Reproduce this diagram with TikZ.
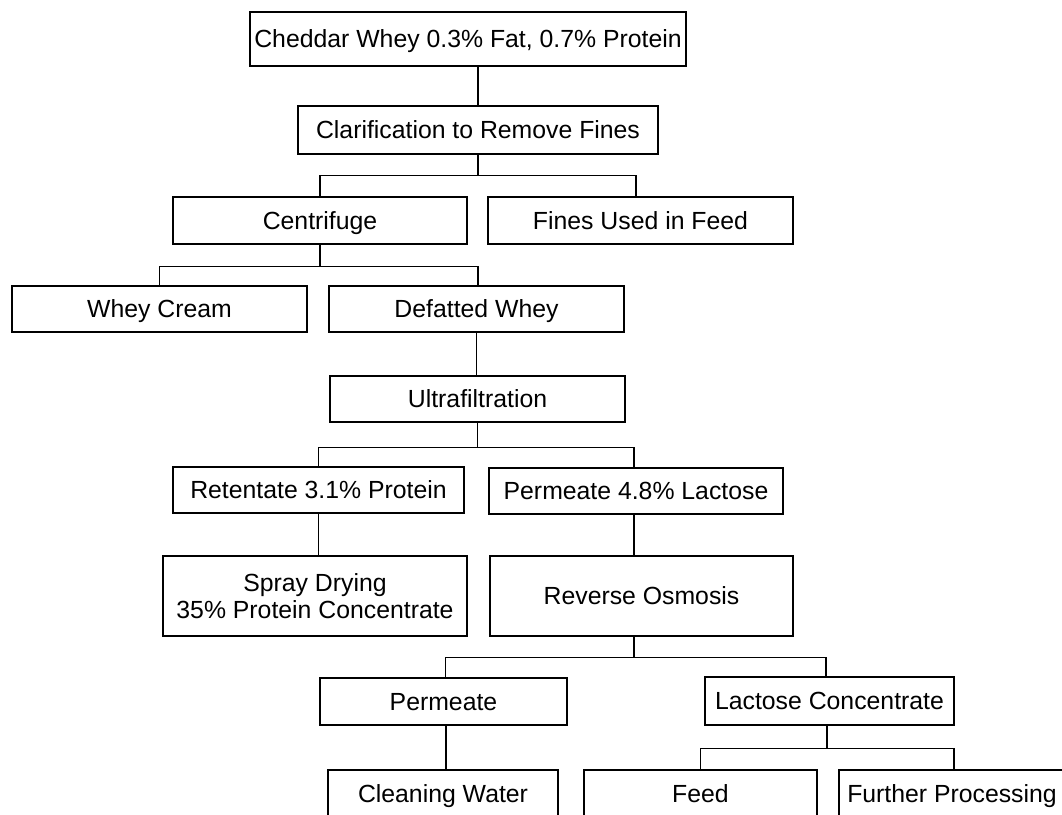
\documentclass[tikz,border=0pt]{standalone}
\usepackage{fontspec}
\setmainfont{Liberation Sans}
\begin{document}
\begin{tikzpicture}[x=1pt,y=-1pt,
  boxbase/.style={draw=black, line width=1.6pt, fill=white, rectangle, inner sep=0pt,
    align=center, font=\fontsize{24.8}{26.5}\selectfont, text=black},
  box/.style={boxbase, text height=17.8pt, text depth=0pt},
  link/.style={draw=black, line width=1.3pt}]
\useasboundingbox (0,0) rectangle (1062,814);
\clip (0,0) rectangle (1062,814);
\fill[white] (0,0) rectangle (1062,814);
% nodes
\node[box, minimum width=436pt, minimum height=54pt] (cheddar) at (468,39) {Cheddar Whey 0.3\% Fat, 0.7\% Protein};
\node[box, minimum width=360pt, minimum height=48pt] (clar) at (478,130) {Clarification to Remove Fines};
\node[box, minimum width=294pt, minimum height=47pt] (cent) at (320,220.5) {Centrifuge};
\node[box, minimum width=305pt, minimum height=47pt] (fines) at (640.5,220.5) {Fines Used in Feed};
\node[box, minimum width=295pt, minimum height=46pt] (cream) at (159.5,309) {Whey Cream};
\node[box, minimum width=295pt, minimum height=46pt] (defat) at (476.5,309) {Defatted Whey};
\node[box, minimum width=295pt, minimum height=46pt] (ultra) at (477.5,399) {Ultrafiltration};
\node[box, minimum width=291pt, minimum height=46pt] (ret) at (318.5,490) {Retentate 3.1\% Protein};
\node[box, minimum width=294pt, minimum height=46pt] (perm) at (636,491) {Permeate 4.8\% Lactose};
\node[boxbase, minimum width=304pt, minimum height=80pt] (spray) at (315,596) {Spray Drying\\35\% Protein Concentrate};
\node[box, minimum width=303pt, minimum height=80pt] (ro) at (641.5,596) {Reverse Osmosis};
\node[box, minimum width=247pt, minimum height=47pt] (permeate) at (443.5,701.5) {Permeate};
\node[box, minimum width=249pt, minimum height=48pt] (lact) at (829.5,701) {Lactose Concentrate};
\node[box, minimum width=230pt, minimum height=48pt] (clean) at (443,794) {Cleaning Water};
\node[box, minimum width=233pt, minimum height=48pt] (feed) at (700.5,794) {Feed};
\node[box, minimum width=226pt, minimum height=48pt] (further) at (952,794) {Further Processing};
% connectors
\draw[link] (clar.north) -- (clar.north |- cheddar.south);
\draw[link] (clar.south) -- ++(0,21) coordinate (j1);
\draw[link] (cent.north) |- (j1) -| ([xshift=-4.5pt]fines.north);
\draw[link] (cent.south) -- ++(0,22) coordinate (j2);
\draw[link] (cream.north) |- (j2) -| ([xshift=1.5pt]defat.north);
\draw[link] (defat.south) -- (defat.south |- ultra.north);
\draw[link] (ultra.south) -- ++(0,25) coordinate (j3);
\draw[link] (ret.north) |- (j3) -| ([xshift=-2pt]perm.north);
\draw[link] (ret.south) -- (ret.south |- spray.north);
\draw[link] ([xshift=-2pt]perm.south) -- ([xshift=-2pt]perm.south |- ro.north);
\draw[link] ([xshift=-7.5pt]ro.south) -- ++(0,21) coordinate (j4);
\draw[link] ([xshift=2pt]permeate.north) |- (j4) -| ([xshift=-3.5pt]lact.north);
\draw[link] ([xshift=2.5pt]permeate.south) -- ([xshift=2.5pt]permeate.south |- clean.north);
\draw[link] ([xshift=-2.5pt]lact.south) -- ++(0,23) coordinate (j5);
\draw[link] (feed.north) |- (j5) -| ([xshift=2pt]further.north);
\end{tikzpicture}
\end{document}
